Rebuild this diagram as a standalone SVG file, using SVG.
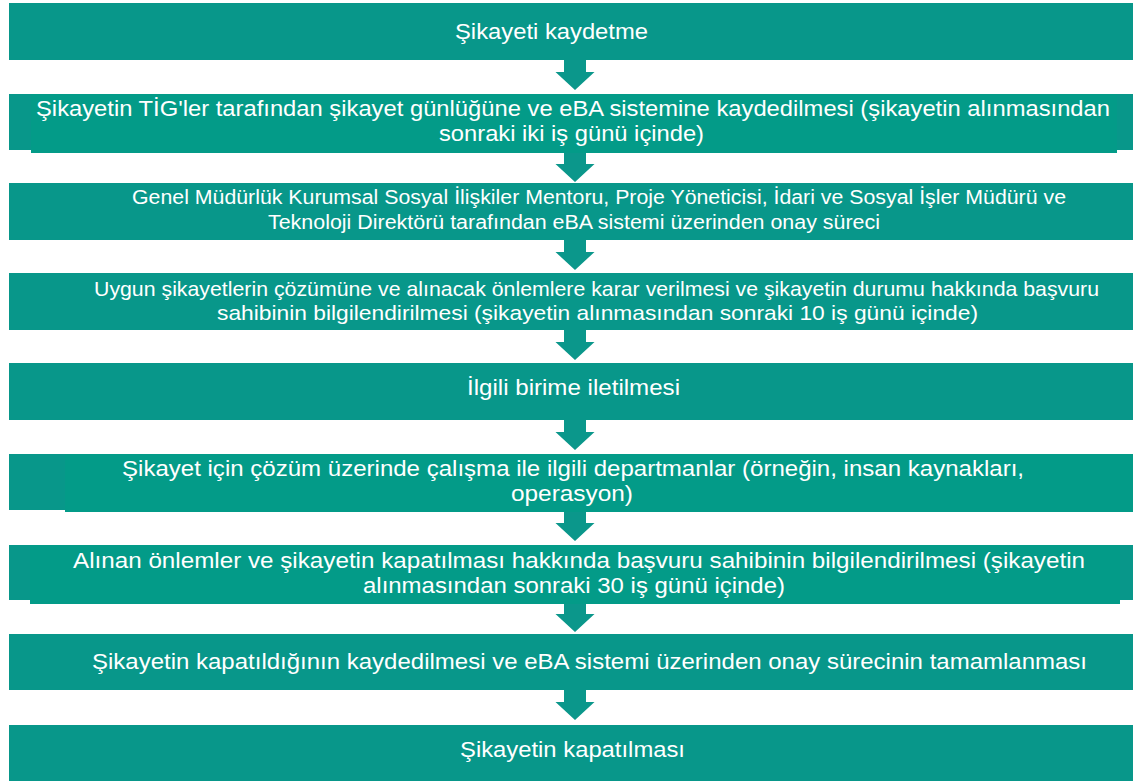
<svg xmlns="http://www.w3.org/2000/svg" width="1135" height="781" viewBox="0 0 1135 781">
<defs>
<style>
.box{fill:#08978a}
.inner{fill:#039b88}
.arrow{fill:#0b978b}
text{font-family:"Liberation Sans",Arial,sans-serif;fill:#ffffff}
.big{font-size:22.5px}
.mid{font-size:20px}
.m2{font-size:21px}
</style>
<path id="arr" d="M-11,0 H11 V12 H19.5 L0,30 L-19.5,12 H-11 Z"/>
</defs>
<rect width="1135" height="781" fill="#ffffff"/>
<g id="connectors">
<use href="#arr" class="arrow" x="575" y="60"/>
<use href="#arr" class="arrow" x="575" y="152"/>
<use href="#arr" class="arrow" x="575" y="240"/>
<use href="#arr" class="arrow" x="575" y="330"/>
<use href="#arr" class="arrow" x="575" y="420"/>
<use href="#arr" class="arrow" x="575" y="511"/>
<use href="#arr" class="arrow" x="575" y="602"/>
<use href="#arr" class="arrow" x="575" y="690"/>
</g>
<g id="n1">
<rect class="box" x="9" y="3" width="1124" height="57"/>
<text class="big" x="455" y="39" textLength="193" lengthAdjust="spacingAndGlyphs">Şikayeti kaydetme</text>
</g>
<g id="n2">
<rect class="box" x="9" y="94" width="1124" height="56"/>
<rect class="inner" x="31" y="94" width="1086" height="59"/>
<text class="big" x="36" y="116" textLength="1074" lengthAdjust="spacingAndGlyphs">Şikayetin TİG'ler tarafından şikayet günlüğüne ve eBA sistemine kaydedilmesi (şikayetin alınmasından</text>
<text class="big" x="439" y="141" textLength="265" lengthAdjust="spacingAndGlyphs">sonraki iki iş günü içinde)</text>
</g>
<g id="n3">
<rect class="box" x="9" y="183" width="1124" height="57"/>
<text class="mid" x="132" y="204" textLength="934" lengthAdjust="spacingAndGlyphs">Genel Müdürlük Kurumsal Sosyal İlişkiler Mentoru, Proje Yöneticisi, İdari ve Sosyal İşler Müdürü ve</text>
<text class="mid" x="268" y="229" textLength="612" lengthAdjust="spacingAndGlyphs">Teknoloji Direktörü tarafından eBA sistemi üzerinden onay süreci</text>
</g>
<g id="n4">
<rect class="box" x="9" y="273" width="1124" height="57"/>
<text class="m2" x="94" y="296" textLength="1005" lengthAdjust="spacingAndGlyphs">Uygun şikayetlerin çözümüne ve alınacak önlemlere karar verilmesi ve şikayetin durumu hakkında başvuru</text>
<text class="m2" x="217" y="320" textLength="761" lengthAdjust="spacingAndGlyphs">sahibinin bilgilendirilmesi (şikayetin alınmasından sonraki 10 iş günü içinde)</text>
</g>
<g id="n5">
<rect class="box" x="9" y="363" width="1124" height="57"/>
<text class="big" x="467" y="395" textLength="213" lengthAdjust="spacingAndGlyphs">İlgili birime iletilmesi</text>
</g>
<g id="n6">
<rect class="box" x="9" y="454" width="1124" height="56"/>
<rect class="inner" x="65" y="454" width="1068" height="58"/>
<text class="big" x="122" y="476" textLength="902" lengthAdjust="spacingAndGlyphs">Şikayet için çözüm üzerinde çalışma ile ilgili departmanlar (örneğin, insan kaynakları,</text>
<text class="big" x="511" y="501" textLength="122" lengthAdjust="spacingAndGlyphs">operasyon)</text>
</g>
<g id="n7">
<rect class="box" x="9" y="545" width="1124" height="55"/>
<rect class="inner" x="30" y="545" width="1090" height="59"/>
<text class="big" x="73" y="568" textLength="1012" lengthAdjust="spacingAndGlyphs">Alınan önlemler ve şikayetin kapatılması hakkında başvuru sahibinin bilgilendirilmesi (şikayetin</text>
<text class="big" x="363" y="593" textLength="422" lengthAdjust="spacingAndGlyphs">alınmasından sonraki 30 iş günü içinde)</text>
</g>
<g id="n8">
<rect class="box" x="9" y="634" width="1124" height="56"/>
<text class="big" x="92" y="669" textLength="995" lengthAdjust="spacingAndGlyphs">Şikayetin kapatıldığının kaydedilmesi ve eBA sistemi üzerinden onay sürecinin tamamlanması</text>
</g>
<g id="n9">
<rect class="box" x="9" y="725" width="1124" height="56"/>
<text class="big" x="460" y="757" textLength="225" lengthAdjust="spacingAndGlyphs">Şikayetin kapatılması</text>
</g>
</svg>
